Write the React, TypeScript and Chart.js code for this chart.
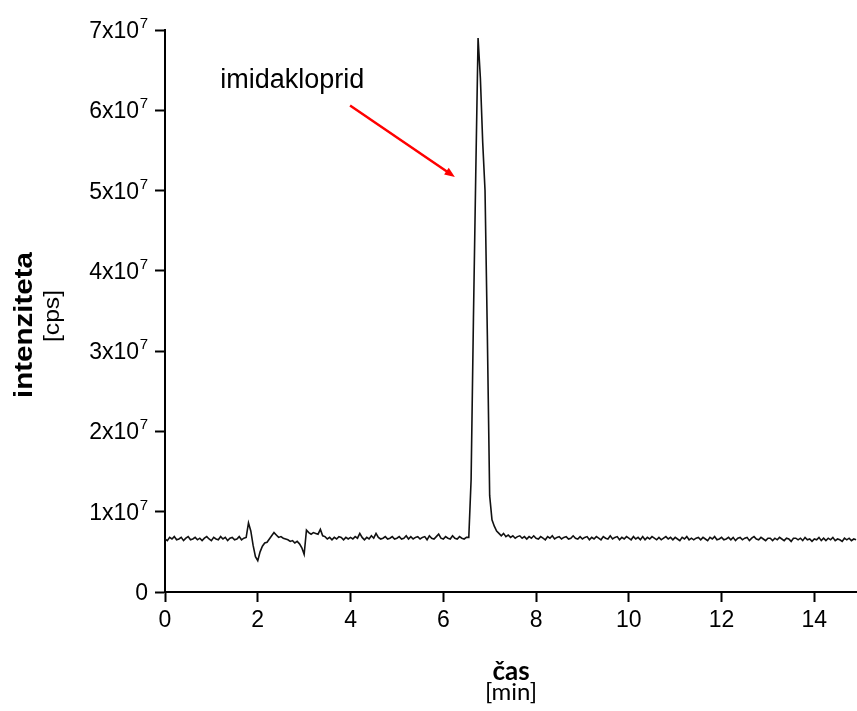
import { useEffect, useRef } from 'react';
import { Chart, registerables } from 'chart.js';

Chart.register(...registerables);

// Chromatogram sampled every 0.05 min, intensity in millions of cps (x10^6)
const SAMPLE_INTERVAL_MIN = 0.05;
const intensityMillions: number[] = [
  // 0.00 - 0.95
  6.6, 6.4, 6.8, 6.6, 6.9, 6.5, 6.6, 6.8, 6.4, 6.7, 6.9, 6.5, 6.6, 6.8, 6.5, 6.7, 6.4, 6.7, 6.9, 6.6,
  // 1.00 - 1.95
  6.4, 6.8, 6.6, 6.5, 6.9, 6.6, 6.8, 6.4, 6.7, 6.8, 6.5, 6.6, 6.9, 6.5, 6.7, 6.8, 8.6, 7.6, 5.8, 4.4,
  // 2.00 - 2.95
  3.9, 5.0, 5.7, 6.1, 6.2, 6.6, 7.0, 7.4, 7.1, 6.8, 6.9, 6.7, 6.6, 6.5, 6.3, 6.4, 6.1, 6.3, 6.0, 5.5,
  // 3.00 - 3.95
  4.7, 7.7, 7.4, 7.2, 7.4, 7.3, 7.2, 7.8, 7.0, 6.9, 6.6, 6.8, 6.5, 6.8, 6.6, 6.9, 6.8, 6.5, 6.8, 6.6,
  // 4.00 - 4.95
  6.8, 6.6, 6.9, 6.7, 7.3, 6.8, 6.5, 6.8, 6.6, 7.0, 6.7, 7.3, 6.8, 6.6, 6.7, 6.9, 6.6, 6.7, 6.9, 6.6,
  // 5.00 - 5.95
  6.7, 6.9, 6.6, 6.7, 7.0, 6.6, 6.9, 6.6, 6.8, 6.9, 6.6, 6.8, 6.9, 6.5, 7.0, 6.7, 6.6, 6.9, 7.2, 6.7,
  // 6.00 - 6.95
  6.6, 6.9, 6.7, 6.6, 7.0, 6.7, 6.6, 6.9, 6.7, 6.6, 6.8, 6.8, 14, 34, 52, 69, 64, 56, 50, 32,
  // 7.00 - 7.95
  12, 9.0, 8.2, 7.6, 7.3, 7.0, 7.3, 6.9, 7.1, 6.8, 7.0, 6.7, 6.9, 7.0, 6.7, 6.9, 6.6, 6.9, 6.7, 7.0,
  // 8.00 - 8.95
  6.7, 6.6, 6.9, 6.7, 6.5, 6.9, 6.7, 7.0, 6.6, 6.8, 6.9, 6.6, 6.8, 6.9, 6.6, 6.7, 7.0, 6.7, 6.6, 6.9,
  // 9.00 - 9.95
  6.6, 6.8, 6.9, 6.5, 6.8, 6.6, 6.9, 6.7, 6.5, 6.9, 6.7, 6.6, 7.0, 6.6, 6.8, 6.9, 6.5, 6.8, 6.6, 6.9,
  // 10.00 - 10.95
  6.7, 6.5, 6.9, 6.6, 6.8, 6.5, 6.9, 6.5, 6.8, 6.6, 6.9, 6.7, 6.5, 6.8, 6.5, 6.7, 6.9, 6.6, 6.8, 6.5,
  // 11.00 - 11.95
  6.8, 6.6, 6.4, 6.8, 6.6, 6.9, 6.5, 6.7, 6.5, 6.7, 6.8, 6.5, 6.8, 6.6, 6.4, 6.8, 6.6, 6.9, 6.5, 6.6,
  // 12.00 - 12.95
  6.8, 6.5, 6.6, 6.8, 6.5, 6.8, 6.4, 6.7, 6.8, 6.5, 6.7, 6.8, 6.4, 6.7, 6.9, 6.6, 6.5, 6.8, 6.6, 6.4,
  // 13.00 - 13.95
  6.7, 6.7, 6.4, 6.7, 6.5, 6.8, 6.6, 6.4, 6.7, 6.6, 6.3, 6.7, 6.7, 6.5, 6.7, 6.4, 6.8, 6.5, 6.6, 6.3,
  // 14.00 - 14.90
  6.6, 6.5, 6.8, 6.4, 6.7, 6.4, 6.7, 6.5, 6.8, 6.4, 6.6, 6.5, 6.3, 6.7, 6.5, 6.7, 6.4, 6.6, 6.5,
];

const X_MIN = 0;
const X_MAX = 14.92;
const xTicks = [0, 2, 4, 6, 8, 10, 12, 14];
const xTickLabels = ['0', '2', '4', '6', '8', '10', '12', '14'];
const Y_MIN = 0;
const Y_MAX = 70;
const yTicks = [0, 10, 20, 30, 40, 50, 60, 70];
const yTickMantissas = ['0', '1x10', '2x10', '3x10', '4x10', '5x10', '6x10', '7x10'];
const yTickExponents = ['', '7', '7', '7', '7', '7', '7', '7'];

const xTitleMain = 'čas';
const xTitleUnit = '[min]';
const yTitleMain = 'intenziteta';
const yTitleUnit = '[cps]';

const annotationLabel = 'imidakloprid';
const annotationTextAt = { x: 1.19, y: 62.8 };
const arrowFrom = { x: 3.99, y: 60.6 };
const arrowTo = { x: 6.25, y: 51.7 };

function drawStretchedVertical(
  ctx: CanvasRenderingContext2D,
  text: string,
  font: string,
  baselineX: number,
  centerY: number,
  length: number
) {
  ctx.save();
  ctx.translate(baselineX, centerY);
  ctx.rotate(-Math.PI / 2);
  ctx.font = font;
  const w = ctx.measureText(text).width;
  ctx.scale(length / w, 1);
  ctx.textAlign = 'center';
  ctx.textBaseline = 'alphabetic';
  ctx.fillStyle = '#000';
  ctx.fillText(text, 0, 0);
  ctx.restore();
}

const overlayPlugin = {
  id: 'overlay',
  afterDraw(chart: any) {
    const { ctx, scales } = chart;
    const x = scales.x;
    const y = scales.y;
    ctx.save();
    ctx.fillStyle = '#000';

    // y tick labels with superscript exponent
    const labelRight = y.right - 17;
    yTicks.forEach((v, i) => {
      const ty = y.getPixelForValue(v);
      const exp = yTickExponents[i];
      let right = labelRight;
      ctx.textBaseline = 'alphabetic';
      ctx.textAlign = 'right';
      if (exp) {
        ctx.font = '15px "Liberation Sans"';
        ctx.fillText(exp, right, ty - 2);
        right -= ctx.measureText(exp).width + 0.5;
      }
      ctx.font = '23px "Liberation Sans"';
      ctx.fillText(yTickMantissas[i], right, ty + 8);
    });

    // annotation label
    ctx.font = '27px "Liberation Sans"';
    ctx.textAlign = 'left';
    ctx.textBaseline = 'alphabetic';
    ctx.fillText(annotationLabel, x.getPixelForValue(annotationTextAt.x), y.getPixelForValue(annotationTextAt.y));

    // red arrow
    const x1 = x.getPixelForValue(arrowFrom.x);
    const y1 = y.getPixelForValue(arrowFrom.y);
    const x2 = x.getPixelForValue(arrowTo.x);
    const y2 = y.getPixelForValue(arrowTo.y);
    const ang = Math.atan2(y2 - y1, x2 - x1);
    const head = 11;
    ctx.strokeStyle = '#ff0000';
    ctx.fillStyle = '#ff0000';
    ctx.lineWidth = 2.5;
    ctx.beginPath();
    ctx.moveTo(x1, y1);
    ctx.lineTo(x2 - head * 0.8 * Math.cos(ang), y2 - head * 0.8 * Math.sin(ang));
    ctx.stroke();
    ctx.beginPath();
    ctx.moveTo(x2, y2);
    ctx.lineTo(x2 - head * Math.cos(ang - 0.38), y2 - head * Math.sin(ang - 0.38));
    ctx.lineTo(x2 - head * Math.cos(ang + 0.38), y2 - head * Math.sin(ang + 0.38));
    ctx.closePath();
    ctx.fill();

    // x axis title
    const cx = (chart.chartArea.left + chart.chartArea.right) / 2;
    ctx.fillStyle = '#000';
    ctx.textAlign = 'center';
    ctx.font = 'bold 26px Lato';
    ctx.fillText(xTitleMain, cx, 680);
    ctx.font = '24px Lato';
    ctx.fillText(xTitleUnit, cx, 700);
    ctx.restore();

    // y axis title
    drawStretchedVertical(ctx, yTitleMain, 'bold 25px "Liberation Sans"', 32, 325, 146);
    drawStretchedVertical(ctx, yTitleUnit, '22px "Liberation Sans"', 59, 316, 52);
  },
};

export default function App() {
  const canvasRef = useRef<HTMLCanvasElement | null>(null);

  useEffect(() => {
    if (!canvasRef.current) return;
    const points = intensityMillions.map((v, i) => ({ x: i * SAMPLE_INTERVAL_MIN, y: v }));
    const axisGrid = {
      display: true,
      drawOnChartArea: false,
      drawTicks: true,
      tickLength: 10,
      tickWidth: 2,
      tickColor: '#000',
    };
    const axisBorder = { display: true, color: '#000', width: 2 };
    const chart = new Chart(canvasRef.current, {
      type: 'line',
      data: {
        datasets: [
          {
            data: points,
            borderColor: '#111',
            borderWidth: 1.6,
            pointRadius: 0,
            tension: 0,
            fill: false,
          },
        ],
      },
      options: {
        responsive: false,
        animation: false,
        events: [],
        layout: { padding: { top: 30, left: 0, right: 0, bottom: 0 } },
        plugins: { legend: { display: false }, tooltip: { enabled: false } },
        scales: {
          x: {
            type: 'linear',
            min: X_MIN,
            max: X_MAX,
            afterBuildTicks: (s: any) => {
              s.ticks = xTicks.map((v) => ({ value: v }));
            },
            afterFit: (s: any) => {
              s.height = 119;
            },
            grid: axisGrid,
            border: axisBorder,
            ticks: {
              color: '#000',
              font: { size: 23, family: '"Liberation Sans"' },
              padding: 5,
              maxRotation: 0,
              autoSkip: false,
              callback: (v: any) => xTickLabels[xTicks.indexOf(Number(v))] ?? '',
            },
          },
          y: {
            type: 'linear',
            min: Y_MIN,
            max: Y_MAX,
            afterBuildTicks: (s: any) => {
              s.ticks = yTicks.map((v) => ({ value: v }));
            },
            afterFit: (s: any) => {
              s.width = 165;
            },
            grid: axisGrid,
            border: axisBorder,
            ticks: {
              display: false,
            },
          },
        },
      },
      plugins: [overlayPlugin],
    });
    return () => chart.destroy();
  }, []);

  return (
    <div style={{ position: 'fixed', left: 0, top: 0, width: 857, height: 711, background: '#fff' }}>
      <canvas ref={canvasRef} width={857} height={711} style={{ display: 'block' }} />
    </div>
  );
}
